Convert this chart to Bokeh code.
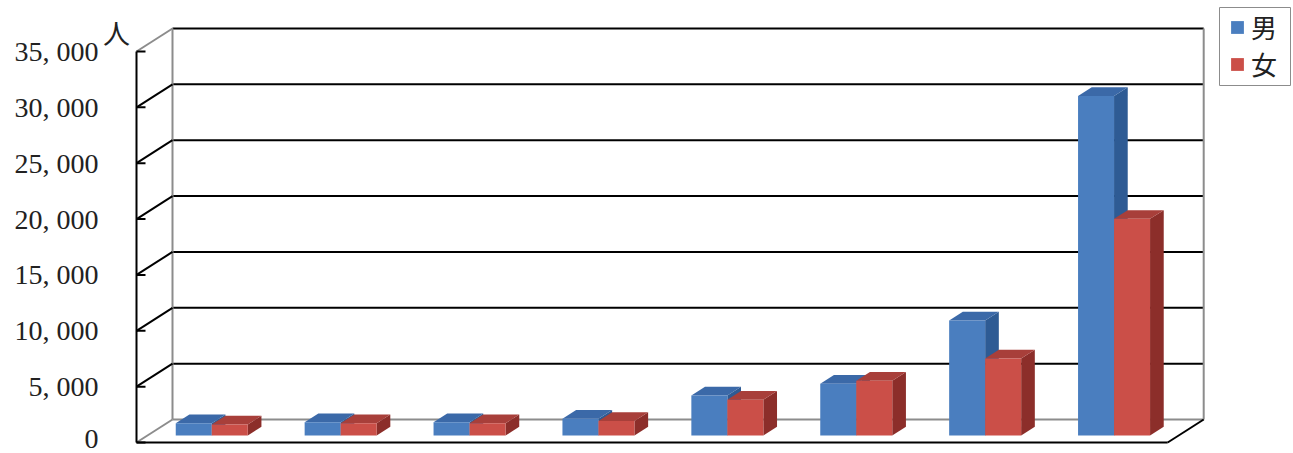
from bokeh.plotting import figure
from bokeh.models import (Range1d, LinearAxis, FixedTicker, Legend, LegendItem)
from bokeh.core.properties import value
from bokeh.embed import file_html
from bokeh.resources import INLINE

# ---------------- data ----------------
categories = ["1", "2", "3", "4", "5", "6", "7", "8"]
male = [1100, 1200, 1200, 1500, 3600, 4650, 10300, 30400]
female = [1000, 1100, 1100, 1300, 3200, 4900, 6900, 19400]
series_names = ["男", "女"]
y_ticks = [0, 5000, 10000, 15000, 20000, 25000, 30000, 35000]
y_tick_labels = ["0", "5, 000", "10, 000", "15, 000", "20, 000", "25, 000", "30, 000", "35, 000"]
unit_label = "人"

# ---------------- layout constants ----------------
W, H = 1293, 453
FRAME_LEFT = 100      # frame left edge (tick labels sit left of it)
AXIS_PX = 136         # front y-axis position
CAT_PX = 128.9        # pixels per category
PX_Y0, PX_YMAX = 442, 51
YMAX = 35000
s = (PX_Y0 - PX_YMAX) / YMAX       # px per unit
DEPTH_PX_X, DEPTH_PX_Y = 36, 23
DX = DEPTH_PX_X / CAT_PX
DY = DEPTH_PX_Y / s
BW = 36 / CAT_PX                   # bar width in category units
F0 = 0.30                          # bar front depth fraction
BD = 0.38                          # bar depth fraction
TICK_IN = 9 / CAT_PX
n = len(categories)

blue = dict(front="#4A7EBF", side="#2E5B94", top="#3B69A8")
red = dict(front="#CB4F48", side="#8C2E2A", top="#A83F3A")

p = figure(width=W, height=H, output_backend="svg", toolbar_location=None,
           min_border_left=FRAME_LEFT, min_border_right=0, min_border_top=0, min_border_bottom=0,
           x_axis_type=None, y_axis_type=None)
x0_data = -(AXIS_PX - FRAME_LEFT) / CAT_PX
p.x_range = Range1d(x0_data, x0_data + (W - FRAME_LEFT) / CAT_PX)
p.y_range = Range1d(-(H - PX_Y0) / s, YMAX + PX_YMAX / s)
p.outline_line_color = None
p.grid.visible = False
p.background_fill_color = "white"
p.border_fill_color = "white"

def px_x(px):
    return x0_data + (px - FRAME_LEFT) / CAT_PX

def px_y(py):
    return (PX_Y0 - py) / s

# ---------------- walls ----------------
p.patch([DX, n + DX, n + DX, DX], [DY, DY, YMAX + DY, YMAX + DY],
        fill_color="white", line_color=None)
# back wall gridlines (black)
p.segment(x0=[DX] * (len(y_ticks) - 1), y0=[v + DY for v in y_ticks[1:]],
          x1=[n + DX] * (len(y_ticks) - 1), y1=[v + DY for v in y_ticks[1:]],
          line_color="black", line_width=2)
# back wall vertical edges & floor back edge (gray)
p.segment(x0=[DX, n + DX, DX], y0=[DY, DY, DY], x1=[DX, n + DX, n + DX], y1=[YMAX + DY, YMAX + DY, DY],
          line_color="#8C8C8C", line_width=2)
# left wall gridlines
p.segment(x0=[0] * (len(y_ticks) - 2), y0=y_ticks[1:-1], x1=[DX] * (len(y_ticks) - 2),
          y1=[v + DY for v in y_ticks[1:-1]], line_color="black", line_width=2)
p.segment(x0=[0, 0], y0=[0, YMAX], x1=[DX, DX], y1=[DY, YMAX + DY],
          line_color="#8C8C8C", line_width=2)
# floor front & right edges
p.segment(x0=[0, n], y0=[0, 0], x1=[n, n + DX], y1=[0, DY], line_color="black", line_width=2)
# front value axis line and its ticks
p.segment(x0=[0], y0=[0], x1=[0], y1=[YMAX], line_color="black", line_width=2)
p.segment(x0=[0] * len(y_ticks), y0=y_ticks, x1=[TICK_IN] * len(y_ticks), y1=y_ticks,
          line_color="black", line_width=2)

# ---------------- bars ----------------
def bar_faces(i, v, off):
    x0 = i + 0.5 + off * BW + F0 * DX
    x1 = x0 + BW
    b = F0 * DY
    bdx, bdy = BD * DX, BD * DY
    front = ([x0, x1, x1, x0], [b, b, b + v, b + v])
    side = ([x1, x1 + bdx, x1 + bdx, x1], [b, b + bdy, b + v + bdy, b + v])
    top = ([x0, x1, x1 + bdx, x0 + bdx], [b + v, b + v, b + v + bdy, b + v + bdy])
    return front, side, top

renderers = []
for i in range(n):
    for vals, off, col in ((male, -1, blue), (female, 0, red)):
        front, side, top = bar_faces(i, vals[i], off)
        p.patch(*side, fill_color=col["side"], line_color=None)
        p.patch(*top, fill_color=col["top"], line_color=None)
        r = p.patch(*front, fill_color=col["front"], line_color=None)
        if i == 0:
            renderers.append(r)

# ---------------- axis (labels only) ----------------
yaxis = LinearAxis(ticker=FixedTicker(ticks=y_ticks), bounds=(0, YMAX))
yaxis.major_label_overrides = {t: l for t, l in zip(y_ticks, y_tick_labels)}
yaxis.axis_line_color = None
yaxis.major_tick_line_color = None
yaxis.minor_tick_line_color = None
yaxis.major_tick_in = 0
yaxis.major_tick_out = 0
yaxis.major_label_standoff = 2
yaxis.major_label_text_font = "Liberation Serif"
yaxis.major_label_text_font_size = "28px"
yaxis.major_label_text_color = "#222222"
p.add_layout(yaxis, "left")

# unit label
p.text(x=[px_x(116)], y=[px_y(32)], text=[unit_label],
       text_font=value("Noto Sans CJK JP"), text_font_size="27px",
       text_align="center", text_baseline="middle", text_color="#222222")

# ---------------- legend ----------------
# legend frame
p.quad(left=[px_x(1219)], right=[px_x(1290)], top=[px_y(7)], bottom=[px_y(85)],
       fill_color="white", line_color="#8C8C8C", line_width=1)
legend = Legend(items=[LegendItem(label=series_names[0], renderers=[renderers[0]]),
                       LegendItem(label=series_names[1], renderers=[renderers[1]])],
                location=(1229 - FRAME_LEFT, H - 82),
                label_text_font="Noto Sans CJK JP", label_text_font_size="26px",
                label_text_color="#222222",
                glyph_width=16, glyph_height=16, label_standoff=6,
                padding=1, spacing=0, margin=0,
                border_line_color=None, background_fill_alpha=0)
p.add_layout(legend)

open("out.html", "w").write(file_html(p, INLINE))
